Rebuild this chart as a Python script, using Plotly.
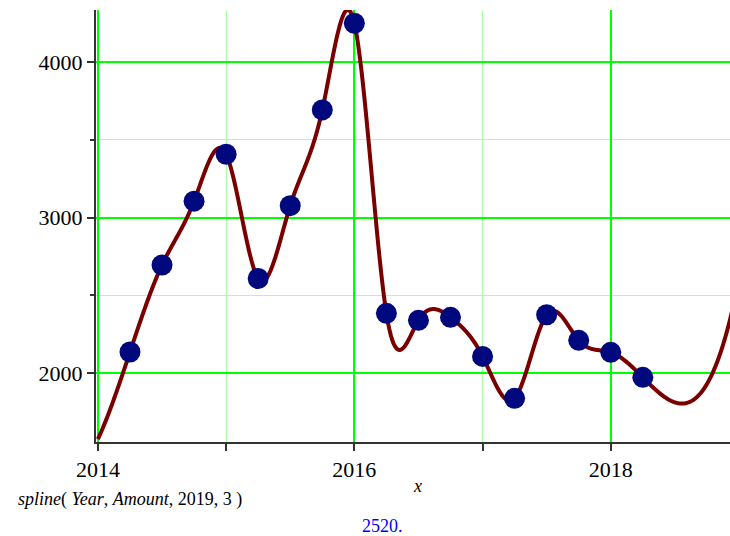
import numpy as np
import plotly.graph_objects as go

# Data
years = [2014.25, 2014.5, 2014.75, 2015.0, 2015.25, 2015.5, 2015.75, 2016.0,
         2016.25, 2016.5, 2016.75, 2017.0, 2017.25, 2017.5, 2017.75, 2018.0, 2018.25]
amounts = [2135, 2695, 3106, 3408, 2608, 3077, 3693, 4251,
           2384, 2339, 2358, 2107, 1837, 2375, 2210, 2133, 1972]
x_ticks = [2014, 2016, 2018]
y_ticks = [2000, 3000, 4000]
result_text = "2520."
spline_call = "<i>spline</i>( <i>Year</i>, <i>Amount</i>, 2019, 3 )"


def natural_spline(xs, ys, t):
    xs = np.asarray(xs, float)
    ys = np.asarray(ys, float)
    n = len(xs)
    h = np.diff(xs)
    A = np.zeros((n, n))
    b = np.zeros(n)
    A[0, 0] = 1
    A[-1, -1] = 1
    for i in range(1, n - 1):
        A[i, i - 1] = h[i - 1]
        A[i, i] = 2 * (h[i - 1] + h[i])
        A[i, i + 1] = h[i]
        b[i] = 6 * ((ys[i + 1] - ys[i]) / h[i] - (ys[i] - ys[i - 1]) / h[i - 1])
    M = np.linalg.solve(A, b)
    t = np.asarray(t, float)
    idx = np.clip(np.searchsorted(xs, t) - 1, 0, n - 2)
    x0, x1 = xs[idx], xs[idx + 1]
    hh = x1 - x0
    m0, m1 = M[idx], M[idx + 1]
    y0, y1 = ys[idx], ys[idx + 1]
    return (m0 * (x1 - t) ** 3 / (6 * hh) + m1 * (t - x0) ** 3 / (6 * hh)
            + (y0 / hh - m0 * hh / 6) * (x1 - t) + (y1 / hh - m1 * hh / 6) * (t - x0))


t = np.linspace(2014, 2019, 1001)
curve = natural_spline(years, amounts, t)

fig = go.Figure()
fig.add_trace(go.Scatter(x=t, y=curve, mode="lines",
                         line=dict(color="#7a0000", width=4, simplify=False), hoverinfo="skip"))
fig.add_trace(go.Scatter(x=years, y=amounts, mode="markers",
                         marker=dict(color="#00087e", size=21, line=dict(width=0))))

font = "Liberation Serif"
minor_grid = "#a8ffa8"
fig.update_layout(
    width=730, height=536,
    margin=dict(l=96, r=0, t=10, b=94),
    paper_bgcolor="white", plot_bgcolor="white",
    showlegend=False,
    font=dict(family=font, size=22, color="black"),
    xaxis=dict(
        range=[2013.985, 2018.93], tickvals=x_ticks, ticktext=[str(v) for v in x_ticks],
        showgrid=True, gridcolor="#00ff00", gridwidth=2,
        ticks="outside", ticklen=7, tickwidth=1.5, tickcolor="#333",
        showline=True, linecolor="#333", linewidth=2, zeroline=False,
        minor=dict(dtick=1, tick0=2014, showgrid=True, gridcolor=minor_grid, gridwidth=1.2,
                   ticks="outside", ticklen=7, tickcolor="#333"),
        tickfont=dict(family=font, size=22),
    ),
    yaxis=dict(
        range=[1556, 4336], tickvals=y_ticks, ticktext=[str(v) for v in y_ticks],
        showgrid=True, gridcolor="#00ff00", gridwidth=2,
        ticks="outside", ticklen=7, tickwidth=1.5, tickcolor="#333",
        showline=True, linecolor="#333", linewidth=2, zeroline=False,
        minor=dict(dtick=500, tick0=0, showgrid=True, gridcolor=minor_grid, gridwidth=1.2,
                   ticks="outside", ticklen=4, tickcolor="#333"),
        tickfont=dict(family=font, size=22),
    ),
    annotations=[
        dict(text="<i>x</i>", x=(418 - 96) / 634, y=(442 - 486) / 432, xref="paper", yref="paper",
             xanchor="center", yanchor="middle", showarrow=False,
             font=dict(family=font, size=18, color="black")),
        dict(text=spline_call, x=(16 - 96) / 634, y=(442 - 499) / 432, xref="paper", yref="paper",
             xanchor="left", yanchor="middle", showarrow=False,
             font=dict(family=font, size=18, color="black")),
        dict(text=result_text, x=(382 - 96) / 634, y=(442 - 526) / 432, xref="paper", yref="paper",
             xanchor="center", yanchor="middle", showarrow=False,
             font=dict(family=font, size=18, color="#0000ff")),
    ],
)

fig.write_html(
    "out.html",
    config={"displayModeBar": False},
    post_script="document.body.style.margin='0px';document.body.style.padding='0px';"
                "document.body.style.overflow='hidden';",
)
